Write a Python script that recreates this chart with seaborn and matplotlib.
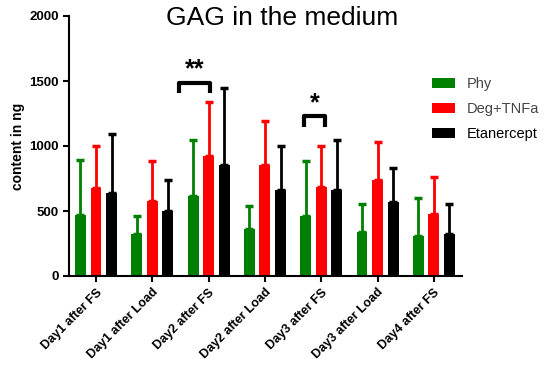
import matplotlib
matplotlib.use("Agg")
import matplotlib.pyplot as plt
import seaborn as sns
import pandas as pd

days = ["Day1 after FS", "Day1 after Load", "Day2 after FS", "Day2 after Load",
        "Day3 after FS", "Day3 after Load", "Day4 after FS"]
groups = ["Phy", "Deg+TNFa", "Etanercept"]
colors = ["#008000", "#ff0000", "#000000"]

phy_mean = [469, 320, 618, 364, 464, 336, 310]
phy_sd = [423, 144, 425, 174, 423, 215, 292]
deg_mean = [674, 579, 923, 854, 684, 738, 479]
deg_sd = [326, 305, 415, 338, 316, 292, 282]
eta_mean = [641, 502, 854, 661, 664, 572, 325]
eta_sd = [451, 236, 589, 336, 382, 261, 231]

# significance brackets: (day index, left, right, height, label)
brackets = [(2, -0.53, 0.02, 1487, "**"), (4, -0.30, 0.07, 1230, "*")]

means = [phy_mean, deg_mean, eta_mean]
sds = [phy_sd, deg_sd, eta_sd]
rows = []
for g, m, s in zip(groups, means, sds):
    for d, v, e in zip(days, m, s):
        rows.append({"day": d, "group": g, "value": v, "sd": e})
df = pd.DataFrame(rows)

sns.set_style("ticks")
plt.rcParams["font.family"] = ["Liberation Sans", "DejaVu Sans"]
plt.rcParams["text.color"] = "black"
plt.rcParams["axes.labelcolor"] = "black"
plt.rcParams["xtick.color"] = "black"
plt.rcParams["ytick.color"] = "black"
plt.rcParams["axes.edgecolor"] = "black"

fig = plt.figure(figsize=(5.45, 3.76), dpi=100)
ax = fig.add_axes([69 / 545, 1 - 276 / 376, (462 - 69) / 545, (276 - 16) / 376])

sns.barplot(data=df, x="day", y="value", hue="group", palette=colors,
            saturation=1, linewidth=0, width=0.83, gap=0.3, errorbar=None,
            ax=ax, legend=True)

# one-sided error bars on top of each bar
for container, g in zip(ax.containers, groups):
    sub = df[df.group == g]
    for patch, v, e in zip(container.patches, sub["value"], sub["sd"]):
        cx = patch.get_x() + patch.get_width() / 2
        col = patch.get_facecolor()
        ax.errorbar(cx, v, yerr=[[0], [e]], fmt="none", ecolor=col,
                    elinewidth=2, capsize=3, capthick=2.5)

for idx, l, r, h, lab in brackets:
    xs = [idx + l, idx + l, idx + r, idx + r]
    ys = [h - 80, h, h, h - 80]
    ax.plot(xs, ys, color="black", lw=3, solid_joinstyle="round",
            solid_capstyle="butt")
    ax.text(idx + (l + r) / 2, h + 100, lab, ha="center", va="center",
            fontsize=18, fontweight="bold")

ax.set_ylim(0, 2000)
ax.set_xlim(-0.48, 6.5)
ax.set_yticks([0, 500, 1000, 1500, 2000])
ax.set_xlabel("")
ax.set_ylabel("content in ng", fontsize=10, fontweight="bold", labelpad=3)
for s in ["left", "bottom"]:
    ax.spines[s].set_linewidth(1.5)
sns.despine(ax=ax)
ax.tick_params(width=1.5, length=4)
ax.set_xticks(range(len(days)))
ax.set_xticklabels(days, rotation=45, ha="right", rotation_mode="anchor",
                   fontsize=9, fontweight="bold")
for t in ax.get_yticklabels():
    t.set_fontweight("bold")
    t.set_fontsize(9.5)

leg = ax.legend(loc="upper left", bbox_to_anchor=(432 / 545, 1 - 77 / 376),
                bbox_transform=fig.transFigure, frameon=False, fontsize=10.5,
                handlelength=1.6, handleheight=0.7, labelspacing=0.75,
                borderaxespad=0, borderpad=0)
for t, c in zip(leg.get_texts(), ["#444444", "#444444", "#000000"]):
    t.set_color(c)

fig.text(282 / 545, 1 - 18 / 376, "GAG in the medium", ha="center",
         va="center", fontsize=19, color="black")

fig.savefig("out.png", dpi=100)
